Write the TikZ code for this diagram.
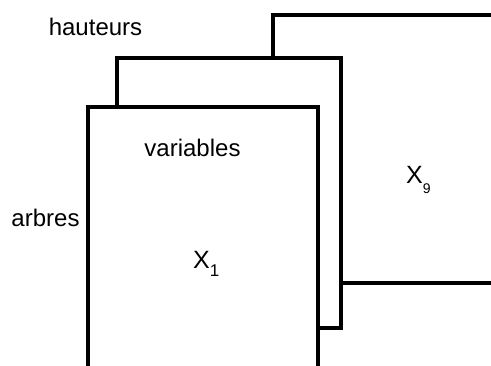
\documentclass[tikz,border=0pt]{standalone}
\usepackage{fontspec}
\setmainfont{Liberation Sans}
\begin{document}
\begin{tikzpicture}[x=1pt,y=-1pt,
  sheet/.style={draw=black,line width=3.2pt,fill=white,line join=miter},
  lbl/.style={inner sep=0pt,anchor=base,font=\fontsize{24}{28}\selectfont},
  varlbl/.style={inner sep=0pt,anchor=base west,font=\fontsize{25}{28}\selectfont}]
\useasboundingbox (0,0) rectangle (491,365);
\clip (0,0) rectangle (491,365);
% back sheet
\draw[sheet] (273,15) rectangle (520,283);
% middle sheet
\draw[sheet] (117,58) rectangle (341,328);
% front sheet
\draw[sheet] (88,107) rectangle (318,390);
% labels
\node[lbl] (hauteurs) at (95.5,35) {hauteurs};
\node[lbl] (arbres) at (45.5,226) {arbres};
\node[lbl] (variables) at (192.5,156) {variables};
\node[varlbl] (x1) at (193,268) {X\raisebox{-8pt}{\fontsize{17}{17}\selectfont 1}};
\node[varlbl] (x9) at (406,183) {X\raisebox{-10pt}{\fontsize{14}{14}\selectfont 9}};
\end{tikzpicture}
\end{document}
